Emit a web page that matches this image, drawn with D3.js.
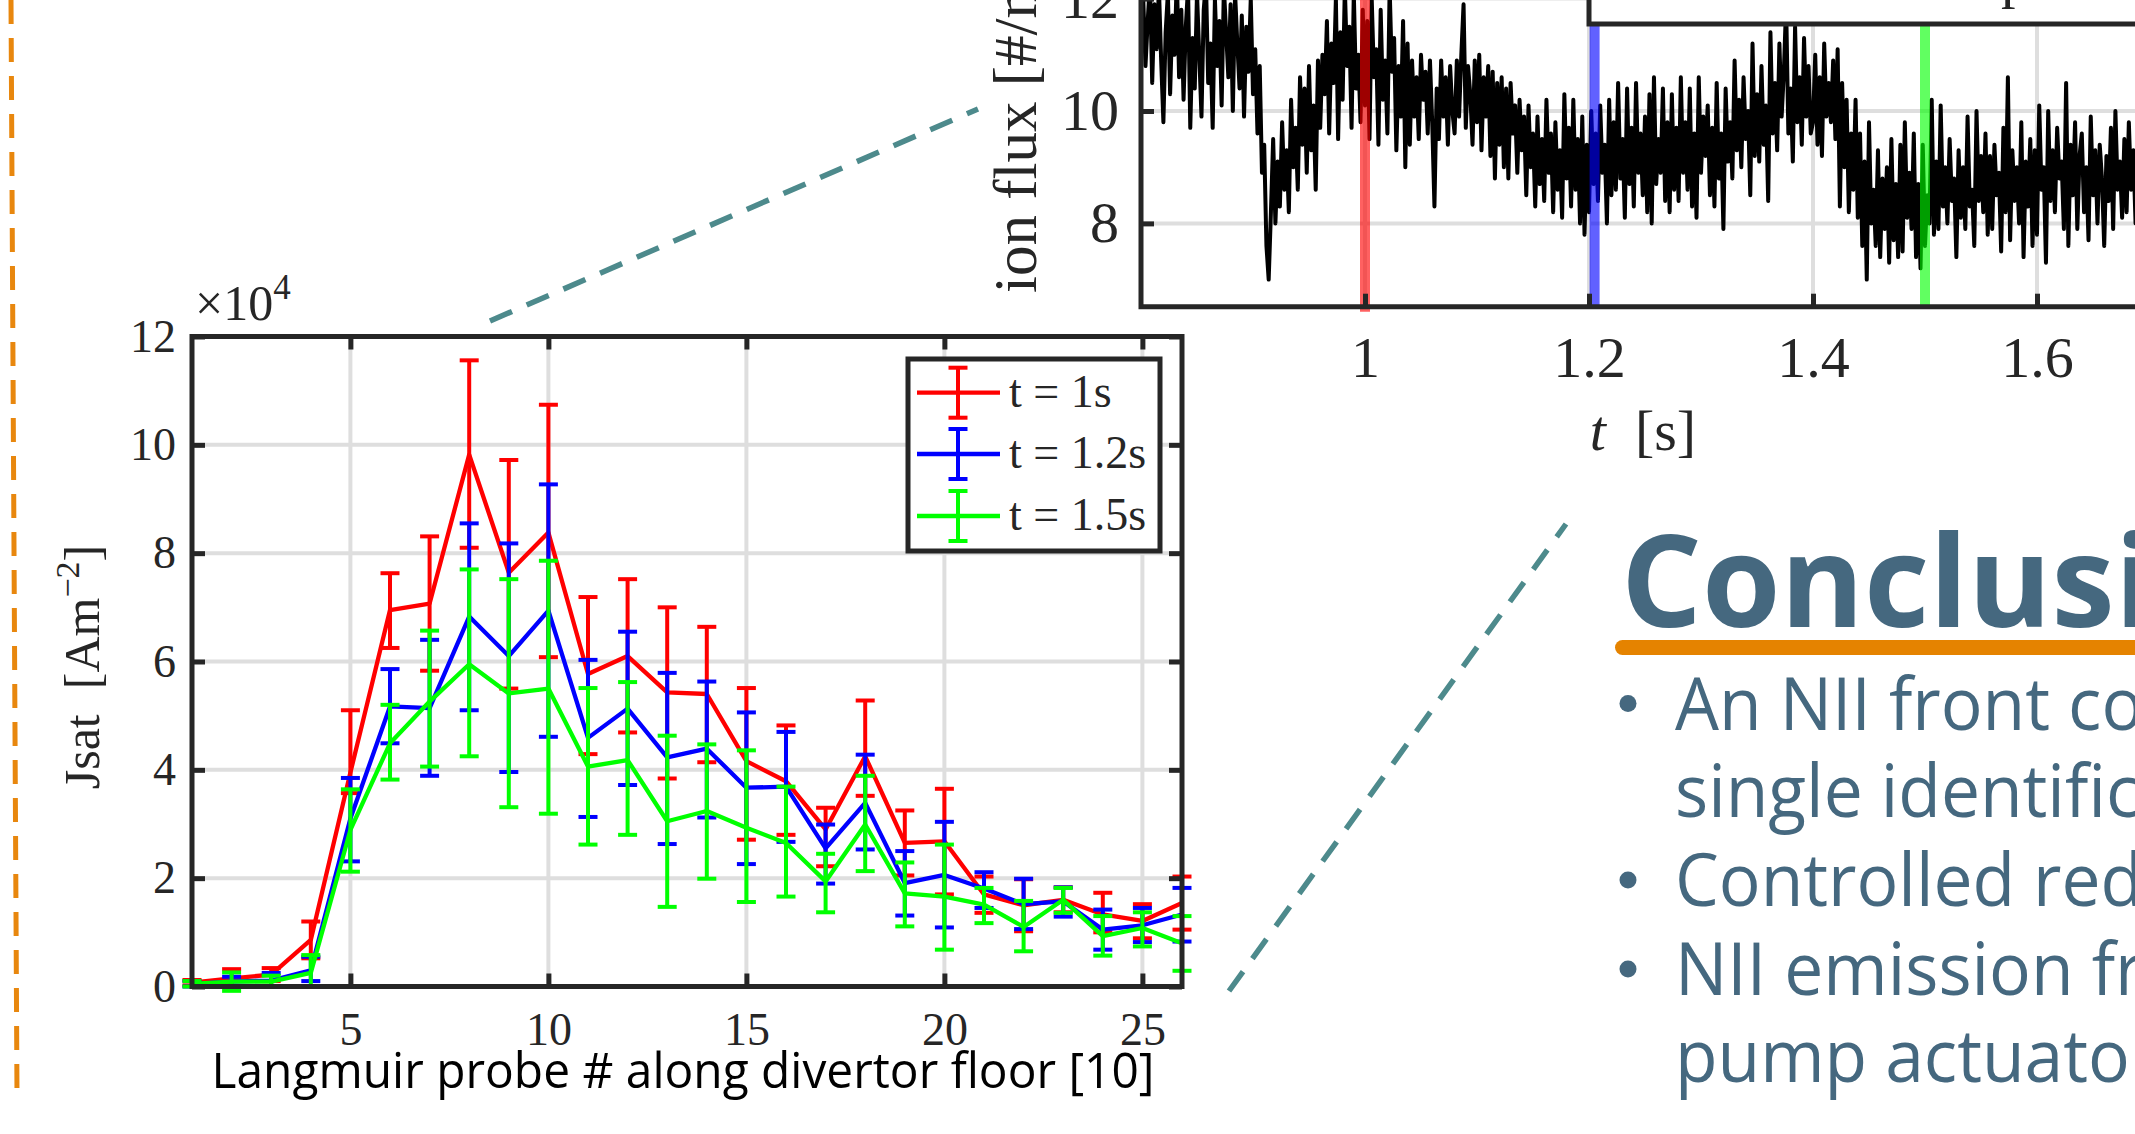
<!DOCTYPE html>
<html>
<head>
<meta charset="utf-8">
<script src="https://d3js.org/d3.v7.min.js"></script>
<style>
  html, body { margin: 0; padding: 0; background: #fff; overflow: hidden; }
  svg { display: block; }
  .cm { font-family: "Liberation Serif", "DejaVu Serif", serif; fill: #262626; }
  .sans { font-family: "Open Sans", "Noto Sans", sans-serif; }
</style>
</head>
<body>
<div id="chart"></div>
<script>
// Langmuir probe index along the divertor floor
const probes = [1, 2, 3, 4, 5, 6, 7, 8, 9, 10, 11, 12, 13, 14, 15, 16, 17, 18, 19, 20, 21, 22, 23, 24, 25, 26];

// Jsat in units of 1e4 A/m^2 (value, lower and upper end of the error bar)
const jsat_1s    = [0.07, 0.15, 0.22, 0.86, 3.95, 6.95, 7.07, 9.82, 7.64, 8.38, 5.77, 6.10, 5.43, 5.40, 4.16, 3.79, 2.90, 4.25, 2.65, 2.68, 1.70, 1.50, 1.60, 1.33, 1.21, 1.54];
const jsat_1s_lo = [0.02, 0.00, 0.10, 0.52, 3.57, 6.25, 5.83, 8.10, 5.50, 6.08, 4.29, 4.69, 3.84, 4.14, 2.71, 2.80, 2.22, 3.52, 2.05, 1.70, 1.36, 1.02, 1.37, 1.00, 0.89, 1.05];
const jsat_1s_hi = [0.12, 0.32, 0.34, 1.20, 5.10, 7.63, 8.31, 11.56, 9.72, 10.74, 7.19, 7.52, 7.00, 6.64, 5.51, 4.82, 3.30, 5.28, 3.25, 3.65, 2.03, 1.98, 1.83, 1.73, 1.52, 2.03];

const jsat_12s    = [0.05, 0.09, 0.11, 0.30, 3.10, 5.17, 5.14, 6.83, 6.10, 6.94, 4.59, 5.13, 4.23, 4.39, 3.67, 3.69, 2.55, 3.39, 1.91, 2.06, 1.81, 1.52, 1.57, 1.05, 1.13, 1.33];
const jsat_12s_lo = [0.00, 0.00, 0.00, 0.10, 2.31, 4.49, 3.89, 5.10, 3.96, 4.61, 3.13, 3.72, 2.63, 3.12, 2.26, 2.67, 1.90, 2.53, 1.31, 1.09, 1.45, 1.06, 1.29, 0.68, 0.82, 0.83];
const jsat_12s_hi = [0.10, 0.18, 0.25, 0.55, 3.85, 5.86, 6.40, 8.55, 8.18, 9.27, 6.03, 6.55, 5.79, 5.63, 5.06, 4.70, 2.99, 4.28, 2.50, 3.04, 2.11, 1.99, 1.83, 1.42, 1.45, 1.82];

const jsat_15s    = [0.05, 0.09, 0.09, 0.25, 2.89, 4.49, 5.26, 5.95, 5.41, 5.50, 4.06, 4.18, 3.05, 3.24, 2.93, 2.65, 1.94, 2.99, 1.72, 1.66, 1.51, 1.10, 1.60, 0.93, 1.08, 0.80];
const jsat_15s_lo = [0.00, -0.08, 0.00, 0.00, 2.12, 3.82, 4.06, 4.25, 3.31, 3.19, 2.62, 2.80, 1.47, 1.99, 1.56, 1.66, 1.37, 2.13, 1.11, 0.68, 1.17, 0.65, 1.36, 0.57, 0.74, 0.29];
const jsat_15s_hi = [0.10, 0.26, 0.20, 0.58, 3.64, 5.20, 6.57, 7.70, 7.52, 7.86, 5.51, 5.62, 4.63, 4.47, 4.36, 3.69, 2.45, 3.89, 2.29, 2.62, 1.82, 1.58, 1.82, 1.30, 1.37, 1.30];

const seriesNames = ["t=1s", "t=1.2s", "t=1.5s"];
const seriesColors = ["#ff0000", "#0000ff", "#00ff00"];
const xTicks = [5, 10, 15, 20, 25];
const yTicks = [0, 2, 4, 6, 8, 10, 12];

// ion flux time trace of the inset (sampled every 2 ms from 0.8 s)
const flux_t0 = 0.8;
const flux_dt = 0.002;
const flux = [
  11.2, 12.0, 10.8, 11.6, 12.3, 10.5, 11.9, 11.1, 12.2, 10.9, 9.8, 11.4, 12.1, 10.3, 11.7, 11.0, 12.4, 10.6, 11.8, 10.2,
  11.5, 12.2, 9.7, 11.3, 10.4, 12.1, 11.0, 9.9, 11.8, 12.3, 10.5, 11.2, 9.7, 12.0, 10.8, 11.6, 10.1, 12.2, 11.4, 10.6,
  11.9, 10.0, 12.1, 11.2, 10.4, 11.7, 9.9, 11.5, 10.7, 12.0, 10.3, 11.1, 9.6, 10.8, 8.9, 9.4, 7.6, 7.0, 8.2, 9.5,
  8.0, 9.1, 8.3, 9.8, 8.6, 9.3, 8.2, 10.2, 9.0, 9.7, 8.6, 10.6, 9.4, 10.4, 8.9, 10.8, 9.3, 10.1, 8.6, 10.9,
  9.7, 11.0, 10.3, 11.6, 9.6, 11.2, 10.5, 12.0, 9.5, 11.4, 10.2, 12.2, 10.8, 11.5, 9.7, 12.1, 10.4, 11.0, 9.8, 11.8,
  10.1, 11.6, 9.5, 12.0, 10.6, 11.1, 9.4, 11.8, 10.2, 10.9, 9.6, 12.2, 10.7, 11.3, 9.3, 10.8, 9.9, 11.6, 9.0, 11.2,
  9.4, 10.9, 9.9, 10.6, 9.5, 11.0, 10.2, 10.7, 9.6, 10.9, 9.8, 8.3, 10.4, 9.5, 10.9, 9.9, 10.6, 9.4, 10.8, 10.0,
  9.6, 10.9, 9.9, 11.0, 11.9, 9.7, 10.8, 10.3, 9.4, 10.9, 9.8, 11.0, 9.3, 10.6, 9.9, 10.8, 9.2, 10.7, 8.8, 10.5,
  9.4, 10.6, 9.0, 10.4, 8.8, 10.5, 9.6, 10.1, 8.9, 10.2, 9.3, 9.9, 8.5, 10.1, 9.0, 9.6, 8.3, 9.9, 8.7, 9.5,
  8.4, 10.2, 8.9, 9.6, 8.2, 9.8, 8.6, 9.3, 8.1, 10.3, 8.8, 9.7, 8.3, 10.2, 8.6, 9.5, 8.0, 9.9, 7.8, 9.4,
  8.2, 10.0, 8.7, 9.6, 8.4, 10.1, 8.9, 9.4, 8.0, 10.2, 8.5, 9.8, 8.6, 10.5, 8.8, 9.5, 8.1, 10.4, 8.7, 9.7,
  8.3, 10.5, 8.9, 9.6, 8.5, 9.9, 8.2, 10.3, 8.0, 10.6, 8.7, 9.5, 8.9, 10.4, 8.4, 9.8, 8.2, 10.3, 8.6, 9.7,
  8.4, 10.6, 8.9, 9.8, 8.6, 10.4, 8.3, 9.6, 8.1, 10.6, 8.9, 9.9, 9.2, 10.1, 8.5, 9.7, 8.3, 10.5, 8.8, 9.6,
  7.9, 10.4, 9.1, 9.8, 8.8, 10.9, 9.3, 10.2, 9.0, 10.6, 9.5, 10.0, 8.5, 11.2, 9.2, 10.3, 9.1, 10.8, 9.4, 10.1,
  8.4, 11.4, 9.6, 10.5, 9.3, 11.2, 9.9, 10.7, 11.9, 9.6, 10.4, 9.1, 11.5, 9.8, 10.6, 9.4, 11.3, 9.9, 10.8, 9.6,
  9.8, 11.0, 9.4, 10.6, 9.2, 11.2, 9.9, 10.5, 9.8, 10.9, 9.5, 11.1, 8.3, 10.5, 9.0, 10.2, 8.2, 9.6, 8.6, 10.2,
  8.1, 9.6, 7.6, 9.1, 7.0, 9.8, 8.0, 8.6, 7.6, 9.3, 7.4, 8.8, 7.9, 9.0, 7.3, 9.5, 7.7, 8.7, 7.4, 9.4,
  7.5, 9.8, 8.1, 8.9, 7.9, 9.6, 7.4, 8.7, 7.2, 9.4, 7.6, 8.5, 8.0, 10.2, 7.8, 9.1, 7.9, 10.1, 8.3, 9.0,
  8.0, 9.5, 8.4, 8.8, 7.4, 9.3, 8.1, 9.0, 7.9, 9.9, 8.3, 8.6, 7.6, 10.0, 8.4, 9.2, 8.2, 9.6, 7.8, 9.2,
  7.9, 9.4, 8.5, 8.9, 7.5, 9.7, 8.2, 10.6, 7.7, 9.3, 8.4, 9.0, 8.0, 9.8, 7.4, 9.1, 8.3, 9.5, 7.6, 9.3,
  7.8, 10.1, 8.6, 9.0, 7.3, 10.0, 8.4, 9.3, 8.2, 9.7, 8.8, 9.1, 7.9, 10.5, 7.6, 9.4, 8.5, 9.8, 7.9, 9.2,
  9.6, 8.2, 9.0, 7.7, 9.9, 8.5, 9.3, 8.0, 9.4, 8.8, 7.6, 9.2, 8.4, 9.7, 7.9, 10.0, 8.6, 9.1, 8.1, 9.5,
  8.2, 9.8, 8.6, 9.3, 8.0, 9.7, 8.4, 9.6, 8.9, 9.2
];
const markerTimes = [1.0, 1.205, 1.5];
const markerColors = ["#ff0000", "#0000ff", "#00ff00"];
const fluxXTicks = [1, 1.2, 1.4, 1.6];
const fluxYTicks = [8, 10, 12];

const conclusionLines = [
  "An NII front controller was designed from a",
  "single identification experiment",
  "Controlled reduction of the target ion flux",
  "NII emission front position controlled by the",
  "pump actuator and the gas valve"
];
const bulletOnLine = [true, false, true, true, false];

const width = 2135, height = 1134;
const axisColor = "#262626", gridColor = "#dedede", textBlue = "#45687f";

const svg = d3.select("#chart").append("svg")
    .attr("width", width)
    .attr("height", height);

svg.append("rect").attr("width", width).attr("height", height).attr("fill", "#fff");

// poster decorations: column separator and zoom guide lines
svg.append("line")
    .attr("x1", 11).attr("y1", 0).attr("x2", 17).attr("y2", 1096)
    .attr("stroke", "#e8870e").attr("stroke-width", 5)
    .attr("stroke-dasharray", "24 14");

const guides = [[490, 321, 978, 109], [1229, 991, 1566, 524]];
svg.selectAll(".guide").data(guides).join("line")
    .attr("class", "guide")
    .attr("x1", d => d[0]).attr("y1", d => d[1])
    .attr("x2", d => d[2]).attr("y2", d => d[3])
    .attr("stroke", "#4d8a8c").attr("stroke-width", 5.5)
    .attr("stroke-dasharray", "24 16");

// ---------------- inset: ion flux vs time ----------------
const tx = d3.scaleLinear().domain([0.8, 1.7]).range([1141, 2149]);
const fy = d3.scaleLinear().domain([8, 10]).range([223.4, 111]);
const insetBottom = 306.7;

const inset = svg.append("g");

svg.append("clipPath").attr("id", "insetClip")
    .append("rect").attr("x", 1141).attr("y", -50).attr("width", 1100).attr("height", insetBottom + 50);

inset.selectAll(".igx").data(fluxXTicks).join("line")
    .attr("x1", d => tx(d)).attr("x2", d => tx(d))
    .attr("y1", -5).attr("y2", insetBottom)
    .attr("stroke", gridColor).attr("stroke-width", 4);
inset.selectAll(".igy").data(fluxYTicks).join("line")
    .attr("x1", 1141).attr("x2", width + 5)
    .attr("y1", d => fy(d)).attr("y2", d => fy(d))
    .attr("stroke", gridColor).attr("stroke-width", 4);

const fluxLine = d3.line()
    .x((d, i) => tx(flux_t0 + i * flux_dt))
    .y(d => fy(d));

inset.append("path")
    .datum(flux)
    .attr("clip-path", "url(#insetClip)")
    .attr("d", fluxLine)
    .attr("fill", "none")
    .attr("stroke", "#000")
    .attr("stroke-width", 4)
    .attr("stroke-linejoin", "round");

inset.selectAll(".marker").data(markerTimes).join("line")
    .attr("x1", d => tx(d)).attr("x2", d => tx(d))
    .attr("y1", -5).attr("y2", (d, i) => i === 0 ? insetBottom + 5 : insetBottom)
    .attr("stroke", (d, i) => markerColors[i])
    .attr("stroke-opacity", 0.62)
    .attr("stroke-width", 10);

// inset legend (mostly outside the picture)
inset.append("rect")
    .attr("x", 1589).attr("y", -30).attr("width", 600).attr("height", 54)
    .attr("fill", "#fff").attr("stroke", axisColor).attr("stroke-width", 5);
inset.append("text").attr("class", "cm")
    .attr("x", 2001).attr("y", -3).attr("font-size", 58).text("p");

// inset axes
const iyAxis = inset.append("g")
    .attr("transform", "translate(1141,0)")
    .call(d3.axisLeft(fy).tickValues(fluxYTicks).tickSizeInner(-13).tickSizeOuter(0).tickPadding(22)
        .tickFormat(d3.format("")));
const ixAxis = inset.append("g")
    .attr("transform", `translate(0,${insetBottom})`)
    .call(d3.axisBottom(tx).tickValues(fluxXTicks).tickSizeInner(-13).tickSizeOuter(0).tickPadding(29)
        .tickFormat(d3.format("")));
[iyAxis, ixAxis].forEach(a => {
    a.select(".domain").remove();
    a.selectAll(".tick line").attr("stroke", axisColor).attr("stroke-width", 5);
    a.selectAll(".tick text").attr("class", "cm").attr("font-size", 58).attr("fill", axisColor);
});
inset.append("path")
    .attr("d", `M1141,-10V${insetBottom}H${width + 10}`)
    .attr("fill", "none").attr("stroke", axisColor).attr("stroke-width", 5);

inset.append("text").attr("class", "cm")
    .attr("x", 1643).attr("y", 450).attr("text-anchor", "middle").attr("font-size", 58)
    .call(t => {
        t.append("tspan").attr("font-style", "italic").text("t");
        t.append("tspan").text("\u2002[s]");
    });

inset.append("text").attr("class", "cm")
    .attr("transform", "translate(1036,293) rotate(-90)")
    .attr("font-size", 61)
    .call(t => {
        t.append("tspan").text("ion flux [#/m");
        t.append("tspan").attr("dy", -20).attr("font-size", 42).text("2");
        t.append("tspan").attr("dy", 20).text("s]");
    });

// ---------------- main plot: Jsat along divertor floor ----------------
const x = d3.scaleLinear().domain([1, 26]).range([192, 1182]);
const y = d3.scaleLinear().domain([0, 12]).range([986.5, 336.5]);

const plot = svg.append("g");

plot.append("rect")
    .attr("x", x(1)).attr("y", y(12)).attr("width", x(26) - x(1)).attr("height", y(0) - y(12))
    .attr("fill", "#fff");

plot.selectAll(".gx").data(xTicks).join("line")
    .attr("x1", d => x(d)).attr("x2", d => x(d))
    .attr("y1", y(0)).attr("y2", y(12))
    .attr("stroke", gridColor).attr("stroke-width", 4);
plot.selectAll(".gy").data(yTicks.filter(v => v > 0 && v < 12)).join("line")
    .attr("x1", x(1)).attr("x2", x(26))
    .attr("y1", d => y(d)).attr("y2", d => y(d))
    .attr("stroke", gridColor).attr("stroke-width", 4);

const series = [
    { val: jsat_1s, lo: jsat_1s_lo, hi: jsat_1s_hi },
    { val: jsat_12s, lo: jsat_12s_lo, hi: jsat_12s_hi },
    { val: jsat_15s, lo: jsat_15s_lo, hi: jsat_15s_hi }
];

const line = d3.line()
    .x((d, i) => x(probes[i]))
    .y(d => y(d));

series.forEach((s, k) => {
    const g = plot.append("g");
    const color = seriesColors[k];
    g.append("path")
        .datum(s.val)
        .attr("d", line)
        .attr("fill", "none")
        .attr("stroke", color)
        .attr("stroke-width", 4.3)
        .attr("stroke-linejoin", "round");
    const bars = g.selectAll(".bar").data(probes).join("g");
    bars.append("line")
        .attr("x1", d => x(d)).attr("x2", d => x(d))
        .attr("y1", (d, i) => y(s.lo[i])).attr("y2", (d, i) => y(s.hi[i]))
        .attr("stroke", color).attr("stroke-width", 4);
    bars.append("line")
        .attr("x1", d => x(d) - 9.5).attr("x2", d => x(d) + 9.5)
        .attr("y1", (d, i) => y(s.lo[i])).attr("y2", (d, i) => y(s.lo[i]))
        .attr("stroke", color).attr("stroke-width", 4);
    bars.append("line")
        .attr("x1", d => x(d) - 9.5).attr("x2", d => x(d) + 9.5)
        .attr("y1", (d, i) => y(s.hi[i])).attr("y2", (d, i) => y(s.hi[i]))
        .attr("stroke", color).attr("stroke-width", 4);
});

// axes with inward ticks on all four sides
const xAxis = plot.append("g")
    .attr("transform", `translate(0,${y(0)})`)
    .call(d3.axisBottom(x).tickValues(xTicks).tickSizeInner(-13).tickSizeOuter(0).tickPadding(26));
const xAxisTop = plot.append("g")
    .attr("transform", `translate(0,${y(12)})`)
    .call(d3.axisTop(x).tickValues(xTicks).tickSizeInner(-13).tickSizeOuter(0).tickFormat(""));
const yAxis = plot.append("g")
    .attr("transform", `translate(${x(1)},0)`)
    .call(d3.axisLeft(y).tickValues(yTicks).tickSizeInner(-13).tickSizeOuter(0).tickPadding(16));
const yAxisRight = plot.append("g")
    .attr("transform", `translate(${x(26)},0)`)
    .call(d3.axisRight(y).tickValues(yTicks).tickSizeInner(-13).tickSizeOuter(0).tickFormat(""));

[xAxis, xAxisTop, yAxis, yAxisRight].forEach(a => {
    a.select(".domain").remove();
    a.selectAll(".tick line").attr("stroke", axisColor).attr("stroke-width", 5);
    a.selectAll(".tick text").attr("class", "cm").attr("font-size", 46).attr("fill", axisColor);
});

plot.append("rect")
    .attr("x", x(1)).attr("y", y(12)).attr("width", x(26) - x(1)).attr("height", y(0) - y(12))
    .attr("fill", "none").attr("stroke", axisColor).attr("stroke-width", 5);

// exponent label
plot.append("text").attr("class", "cm")
    .attr("x", 195).attr("y", 320).attr("font-size", 50)
    .call(t => {
        t.append("tspan").text("\u00d710");
        t.append("tspan").attr("dy", -21).attr("font-size", 35).text("4");
    });

// y label
plot.append("text").attr("class", "cm")
    .attr("transform", "translate(99,667) rotate(-90)")
    .attr("text-anchor", "middle")
    .attr("font-size", 50)
    .call(t => {
        t.append("tspan").text("Jsat\u2002[Am");
        t.append("tspan").attr("dy", -20).attr("font-size", 34).text("\u22122");
        t.append("tspan").attr("dy", 20).text("]");
    });

// x label (poster font)
plot.append("text").attr("class", "sans")
    .attr("x", 683).attr("y", 1088)
    .attr("text-anchor", "middle")
    .attr("font-size", 49)
    .attr("fill", "#000")
    .attr("textLength", 943)
    .attr("lengthAdjust", "spacingAndGlyphs")
    .text("Langmuir probe # along divertor floor [10]");

// legend
const legend = plot.append("g");
legend.append("rect")
    .attr("x", 908).attr("y", 359).attr("width", 252).attr("height", 192)
    .attr("fill", "#fff").attr("stroke", axisColor).attr("stroke-width", 5);
const legendRows = [392.7, 454, 516];
seriesNames.forEach((name, k) => {
    const cy = legendRows[k];
    const c = seriesColors[k];
    legend.append("line").attr("x1", 917).attr("x2", 1000).attr("y1", cy).attr("y2", cy)
        .attr("stroke", c).attr("stroke-width", 4.3);
    legend.append("line").attr("x1", 958).attr("x2", 958).attr("y1", cy - 25).attr("y2", cy + 25)
        .attr("stroke", c).attr("stroke-width", 4);
    [cy - 25, cy + 25].forEach(v => {
        legend.append("line").attr("x1", 948.5).attr("x2", 967.5).attr("y1", v).attr("y2", v)
            .attr("stroke", c).attr("stroke-width", 4);
    });
    legend.append("text").attr("class", "cm")
        .attr("x", 1009).attr("y", cy + 14).attr("font-size", 46)
        .text(name.replace("=", " = "));
});

// ---------------- conclusions column ----------------
const concl = svg.append("g").attr("class", "sans");
concl.append("text")
    .attr("x", 1621).attr("y", 627)
    .attr("font-size", 127).attr("font-weight", 700)
    .attr("fill", textBlue)
    .text("Conclusions");
concl.append("rect")
    .attr("x", 1615).attr("y", 640).attr("width", 600).attr("height", 15).attr("rx", 7.5)
    .attr("fill", "#e58300");

const lineBase = [729.5, 817, 906, 995, 1082];
conclusionLines.forEach((txt, i) => {
    concl.append("text")
        .attr("transform", `translate(1675,${lineBase[i]}) scale(0.94,1)`)
        .attr("font-size", 74)
        .attr("fill", textBlue)
        .text(txt);
    if (bulletOnLine[i]) {
        concl.append("circle")
            .attr("cx", 1628).attr("cy", lineBase[i] - 26).attr("r", 8.5)
            .attr("fill", textBlue);
    }
});
</script>
</body>
</html>
